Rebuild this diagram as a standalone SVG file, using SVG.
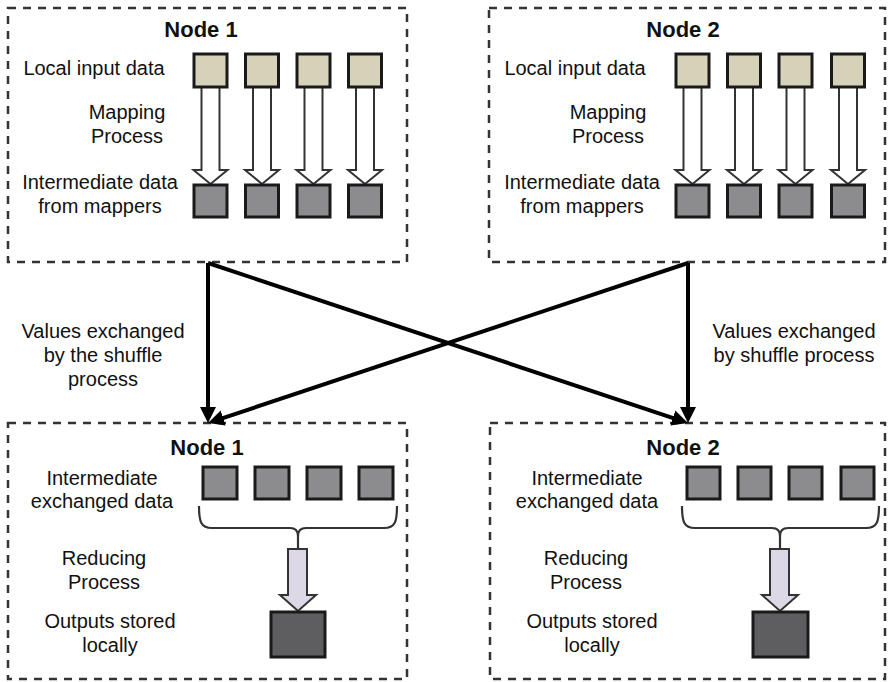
<svg xmlns="http://www.w3.org/2000/svg" width="888" height="682" viewBox="0 0 888 682">
<defs>
<style>
text{font-family:"Liberation Sans",Arial,sans-serif;fill:#111;}
.lbl{font-size:20px;text-anchor:middle;}
.ttl{font-size:22px;font-weight:bold;text-anchor:middle;}
.box{fill:none;stroke:#333;stroke-width:2.5;stroke-dasharray:8 7;}
.in{fill:#d5d2b9;stroke:#1a1a1a;stroke-width:3;}
.mid{fill:#8c8c8e;stroke:#1a1a1a;stroke-width:3;}
.out{fill:#5e5e60;stroke:#1a1a1a;stroke-width:3;}
.map{fill:#fff;stroke:#333;stroke-width:2;stroke-linejoin:miter;}
.red{fill:#dcd8e6;stroke:#333;stroke-width:2;}
.brace{fill:none;stroke:#333;stroke-width:2.2;}
.conn{stroke:#000;stroke-width:4;fill:none;}
</style>
<marker id="ah" markerUnits="userSpaceOnUse" markerWidth="18" markerHeight="18" refX="2" refY="8" orient="auto">
<path d="M0,0 L16,8 L0,16 Z" fill="#000"/>
</marker>
</defs>
<rect width="888" height="682" fill="#fff"/>

<g id="map-node1">
<rect class="box" x="8" y="8" width="399" height="254"/>
<text class="ttl" x="201" y="37">Node 1</text>
<text class="lbl" x="94" y="75">Local input data</text>
<text class="lbl" x="127" y="119">Mapping</text>
<text class="lbl" x="127" y="143">Process</text>
<text class="lbl" x="100" y="189">Intermediate data</text>
<text class="lbl" x="100" y="213">from mappers</text>
<path class="map" d="M201.5,88 V170 H193.5 L210.5,184 L227.5,170 H219.5 V88"/>
<path class="map" d="M253,88 V170 H245 L262,184 L279,170 H271 V88"/>
<path class="map" d="M304.5,88 V170 H296.5 L313.5,184 L330.5,170 H322.5 V88"/>
<path class="map" d="M356,88 V170 H348 L365,184 L382,170 H374 V88"/>
<rect class="in" x="194" y="54" width="33" height="33"/>
<rect class="in" x="245.5" y="54" width="33" height="33"/>
<rect class="in" x="297" y="54" width="33" height="33"/>
<rect class="in" x="348.5" y="54" width="33" height="33"/>
<rect class="mid" x="194" y="185" width="33" height="32"/>
<rect class="mid" x="245.5" y="185" width="33" height="32"/>
<rect class="mid" x="297" y="185" width="33" height="32"/>
<rect class="mid" x="348.5" y="185" width="33" height="32"/>
</g>

<g id="map-node2">
<rect class="box" x="489" y="8" width="396" height="254"/>
<text class="ttl" x="683" y="37">Node 2</text>
<text class="lbl" x="575" y="75">Local input data</text>
<text class="lbl" x="608" y="119">Mapping</text>
<text class="lbl" x="608" y="143">Process</text>
<text class="lbl" x="582" y="189">Intermediate data</text>
<text class="lbl" x="582" y="213">from mappers</text>
<path class="map" d="M683.5,88 V170 H675.5 L692.5,184 L709.5,170 H701.5 V88"/>
<path class="map" d="M735,88 V170 H727 L744,184 L761,170 H753 V88"/>
<path class="map" d="M786.5,88 V170 H778.5 L795.5,184 L812.5,170 H804.5 V88"/>
<path class="map" d="M839,88 V170 H831 L848,184 L865,170 H857 V88"/>
<rect class="in" x="676" y="54" width="33" height="33"/>
<rect class="in" x="727.5" y="54" width="33" height="33"/>
<rect class="in" x="779" y="54" width="33" height="33"/>
<rect class="in" x="831.5" y="54" width="33" height="33"/>
<rect class="mid" x="676" y="185" width="33" height="32"/>
<rect class="mid" x="727.5" y="185" width="33" height="32"/>
<rect class="mid" x="779" y="185" width="33" height="32"/>
<rect class="mid" x="831.5" y="185" width="33" height="32"/>
</g>

<g id="reduce-node1">
<rect class="box" x="8" y="423" width="399" height="256"/>
<text class="ttl" x="207" y="455">Node 1</text>
<text class="lbl" x="102" y="485">Intermediate</text>
<text class="lbl" x="102" y="508">exchanged data</text>
<text class="lbl" x="104" y="565">Reducing</text>
<text class="lbl" x="104" y="589">Process</text>
<text class="lbl" x="110" y="628">Outputs stored</text>
<text class="lbl" x="110" y="652">locally</text>
<rect class="mid" x="203" y="467" width="34" height="32"/>
<rect class="mid" x="255" y="467" width="34" height="32"/>
<rect class="mid" x="307" y="467" width="34" height="32"/>
<rect class="mid" x="359" y="467" width="34" height="32"/>
<path class="brace" d="M199,506 C199,522 201,528 212,528 H290 C296,528 298,532 298,536 C298,532 300,528 306,528 H384 C395,528 397,522 397,506 M298,536 V549"/>
<path class="red" d="M288,549 V595 H280 L298,611 L316,595 H307 V549 Z"/>
<rect class="out" x="271" y="612" width="54" height="45"/>
</g>

<g id="reduce-node2">
<rect class="box" x="490" y="423" width="395" height="256"/>
<text class="ttl" x="683" y="455">Node 2</text>
<text class="lbl" x="587" y="485">Intermediate</text>
<text class="lbl" x="587" y="508">exchanged data</text>
<text class="lbl" x="586" y="565">Reducing</text>
<text class="lbl" x="586" y="589">Process</text>
<text class="lbl" x="592" y="628">Outputs stored</text>
<text class="lbl" x="592" y="652">locally</text>
<rect class="mid" x="687" y="467" width="33" height="32"/>
<rect class="mid" x="738" y="467" width="33" height="32"/>
<rect class="mid" x="789" y="467" width="33" height="32"/>
<rect class="mid" x="841" y="467" width="33" height="32"/>
<path class="brace" d="M682,506 C682,522 684,528 695,528 H772 C778,528 780,532 780,536 C780,532 782,528 788,528 H866 C877,528 879,522 879,506 M780,536 V549"/>
<path class="red" d="M770,549 V595 H762 L780,611 L798,595 H789 V549 Z"/>
<rect class="out" x="753" y="612" width="55" height="45"/>
</g>

<g id="connectors">
<line class="conn" x1="208" y1="263" x2="208" y2="409" marker-end="url(#ah)"/>
<line class="conn" x1="688" y1="263" x2="688" y2="409" marker-end="url(#ah)"/>
<line class="conn" x1="208" y1="263" x2="674.7" y2="418.6" marker-end="url(#ah)"/>
<line class="conn" x1="688" y1="263" x2="221.3" y2="418.6" marker-end="url(#ah)"/>
<text class="lbl" x="103" y="338">Values exchanged</text>
<text class="lbl" x="103" y="362">by the shuffle</text>
<text class="lbl" x="103" y="386">process</text>
<text class="lbl" x="794" y="338">Values exchanged</text>
<text class="lbl" x="794" y="362">by shuffle process</text>
</g>
</svg>
